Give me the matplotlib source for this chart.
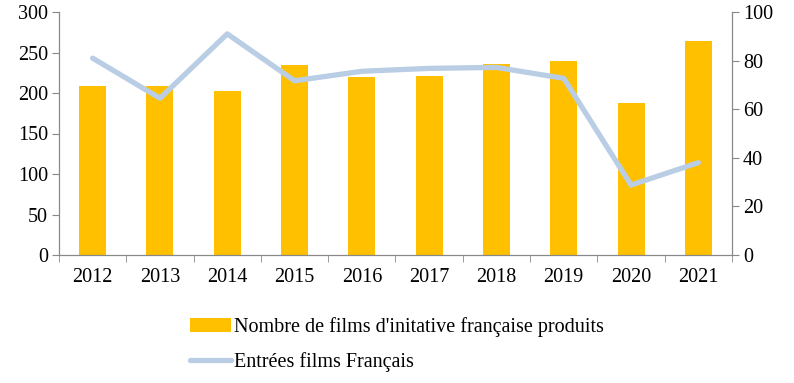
import numpy as np
import matplotlib.pyplot as plt

# Data
years = ["2012", "2013", "2014", "2015", "2016", "2017", "2018", "2019", "2020", "2021"]
films_produits = [209, 209, 203, 234, 220, 221, 236, 240, 188, 264]
entrees_fr = [81, 64.5, 91, 71.7, 75.6, 76.8, 77.2, 72.7, 28.8, 38]

plt.rcParams['font.family'] = ['Liberation Serif', 'DejaVu Serif']

fig = plt.figure(figsize=(7.94, 3.83), dpi=100)
ax = fig.add_axes([59 / 794, 1 - 255 / 383, (732 - 59) / 794, 243 / 383])
ax2 = ax.twinx()

x = np.arange(len(years))
ax.bar(x, films_produits, width=0.4, color="#FFC000", zorder=2,
       label="Nombre de films d'initative française produits")
ax2.plot(x, entrees_fr, color="#B9CDE5", linewidth=3.8, solid_capstyle="round",
         label="Entrées films Français")

ax.set_xlim(-0.5, len(years) - 0.5)
ax.set_ylim(0, 300)
ax2.set_ylim(0, 100)
ax.set_yticks(range(0, 301, 50))
ax2.set_yticks(range(0, 101, 20))

ax.set_xticks(x)
ax.set_xticklabels(years)
ax.set_xticks(np.arange(-0.5, len(years), 1), minor=True)
ax.tick_params(axis="x", which="major", length=0, pad=9, labelsize=14.5)
ax.tick_params(axis="x", which="minor", length=5, color="#888888", direction="out")

for a in (ax, ax2):
    a.spines["top"].set_visible(False)
    for s in ("left", "right", "bottom"):
        a.spines[s].set_color("#888888")
    a.tick_params(axis="y", length=5, color="#888888", labelsize=14.5, pad=3)

h1, l1 = ax.get_legend_handles_labels()
h2, l2 = ax2.get_legend_handles_labels()
fig.legend(h1 + h2, l1 + l2, loc="center", bbox_to_anchor=(0.5, 1 - 345 / 383),
           frameon=False, fontsize=14.5, handlelength=2.0, handletextpad=0.15,
           labelspacing=0.75)

fig.savefig("out.png", dpi=100)
